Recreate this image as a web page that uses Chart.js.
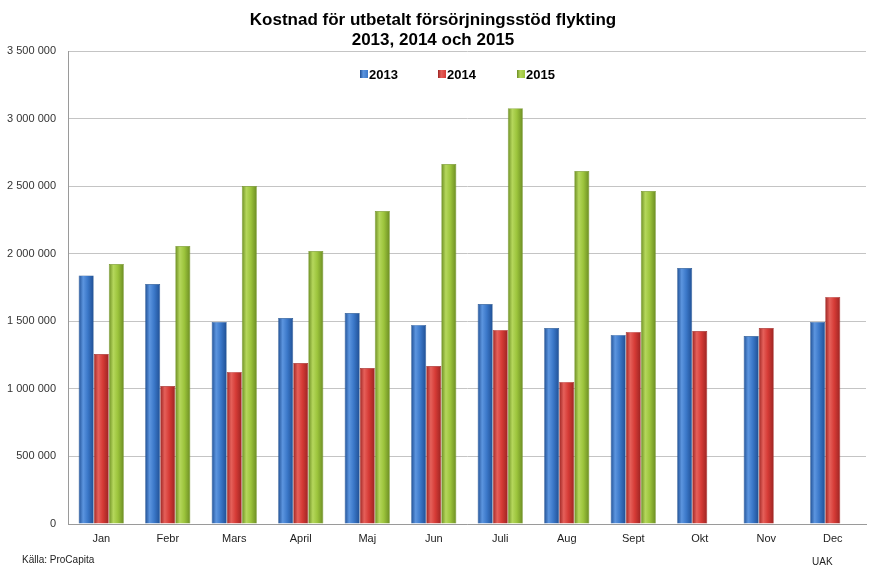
<!DOCTYPE html>
<html>
<head>
<meta charset="utf-8">
<script src="https://cdn.jsdelivr.net/npm/chart.js@4/dist/chart.umd.min.js"></script>
<style>
  html, body { margin: 0; padding: 0; background: #fff; }
  #wrap { width: 896px; height: 585px; }
</style>
</head>
<body>
<div id="wrap"><canvas id="c" width="896" height="585"></canvas></div>
<script>
const months = ['Jan','Febr','Mars','April','Maj','Jun','Juli','Aug','Sept','Okt','Nov','Dec'];
const seriesNames = ['2013','2014','2015'];
const v2013 = [1840000,1776000,1495000,1524000,1561000,1473000,1628000,1450000,1399000,1894000,1391000,1495000];
const v2014 = [1258000,1021000,1125000,1191000,1154000,1169000,1436000,1051000,1421000,1428000,1450000,1680000];
const v2015 = [1924000,2057000,2501000,2020000,2316000,2664000,3078000,2612000,2464000,null,null,null];
const yTicks = [0,500000,1000000,1500000,2000000,2500000,3000000,3500000];

const shades = [
  {base:'#3b78c9', dark:'#1f4f94', light:'#5c95df', border:'#25548f'},
  {base:'#d63b36', dark:'#9c2422', light:'#e5605a', border:'#a02a27'},
  {base:'#9cc43c', dark:'#6b8c22', light:'#b5d75c', border:'#74952a'}
];

const fmt = v => String(v).replace(/\B(?=(\d{3})+(?!\d))/g, ' ');

const shadePlugin = {
  id: 'shade',
  beforeDatasetsDraw(chart) {
    const ctx = chart.ctx;
    chart.data.datasets.forEach((ds, i) => {
      const meta = chart.getDatasetMeta(i);
      const s = shades[i];
      meta.data.forEach(el => {
        if (!el || el.width == null || isNaN(el.x)) return;
        const x0 = el.x - el.width / 2;
        const g = ctx.createLinearGradient(x0, 0, x0 + el.width, 0);
        g.addColorStop(0, s.dark);
        g.addColorStop(0.3, s.light);
        g.addColorStop(0.6, s.base);
        g.addColorStop(1, s.dark);
        el.options = Object.assign({}, el.options, {backgroundColor: g});
      });
    });
  },
  afterDraw(chart) {
    const ctx = chart.ctx;
    ctx.save();
    // legend inside plot area
    ctx.textBaseline = 'middle';
    ctx.textAlign = 'left';
    ctx.font = 'bold 13px "Liberation Sans", Arial, sans-serif';
    const legendX = [360, 438, 517];
    const legendY = 74;
    chart.data.datasets.forEach((ds, i) => {
      const x = legendX[i];
      const g = ctx.createLinearGradient(x, 0, x + 8, 0);
      g.addColorStop(0, shades[i].dark);
      g.addColorStop(0.4, shades[i].light);
      g.addColorStop(1, shades[i].base);
      ctx.fillStyle = g;
      ctx.fillRect(x, legendY - 4, 8, 8);
      ctx.fillStyle = '#000';
      ctx.fillText(ds.label, x + 9, legendY + 1);
    });
    ctx.fillStyle = '#222';
    ctx.font = '10px "Liberation Sans", Arial, sans-serif';
    ctx.fillText('Källa: ProCapita', 22, 560);
    ctx.fillText('UAK', 812, 562);
    ctx.restore();
  }
};

new Chart(document.getElementById('c'), {
  type: 'bar',
  data: {
    labels: months,
    datasets: [
      {label: seriesNames[0], data: v2013, backgroundColor: shades[0].base, borderColor: shades[0].border, borderWidth: 0.6},
      {label: seriesNames[1], data: v2014, backgroundColor: shades[1].base, borderColor: shades[1].border, borderWidth: 0.6},
      {label: seriesNames[2], data: v2015, backgroundColor: shades[2].base, borderColor: shades[2].border, borderWidth: 0.6}
    ]
  },
  plugins: [shadePlugin],
  options: {
    responsive: false,
    animation: false,
    devicePixelRatio: 1,
    layout: {padding: {left: 0, right: 30, top: 0, bottom: 36}},
    datasets: {bar: {barPercentage: 1.0, categoryPercentage: 0.68}},
    plugins: {
      title: {
        display: true,
        text: ['Kostnad för utbetalt försörjningsstöd flykting', '2013, 2014 och 2015'],
        color: '#000',
        font: {family: '"Liberation Sans", Arial, sans-serif', size: 17, weight: 'bold', lineHeight: 1.18},
        padding: {top: 10, bottom: 1}
      },
      legend: {display: false},
      tooltip: {enabled: false}
    },
    scales: {
      x: {
        grid: {display: false, drawTicks: false},
        border: {color: '#9a9a9a'},
        ticks: {color: '#222', padding: 8, font: {family: '"Liberation Sans Narrow", "Liberation Sans", Arial, sans-serif', size: 11}},
        afterFit(scale) { scale.height = 25; }
      },
      y: {
        min: 0, max: 3500000,
        afterBuildTicks(scale) { scale.ticks = yTicks.map(v => ({value: v})); },
        grid: {color: '#c4c4c4', drawTicks: false},
        border: {color: '#9a9a9a'},
        ticks: {color: '#333', padding: 12, callback: v => fmt(v), font: {family: '"Liberation Sans", Arial, sans-serif', size: 11}},
        afterFit(scale) { scale.width = 68; }
      }
    }
  }
});
</script>
</body>
</html>
